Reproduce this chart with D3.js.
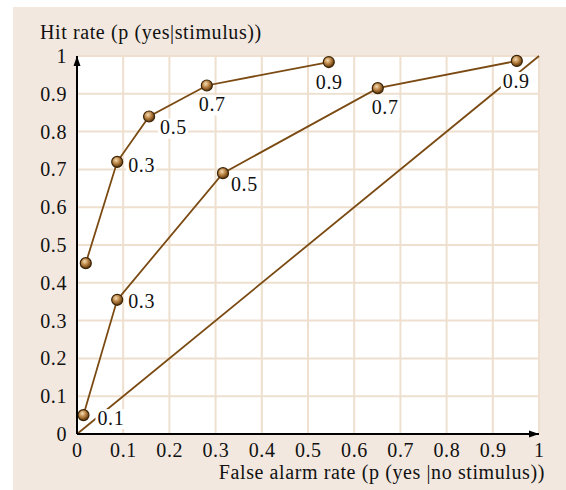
<!DOCTYPE html>
<html><head><meta charset="utf-8">
<script src="https://cdn.jsdelivr.net/npm/d3@7"></script>
<style>
html,body{margin:0;padding:0;background:#fff;}
svg text{font-family:"Liberation Serif","Times New Roman",serif;}
</style></head>
<body>
<svg id="chart" width="566" height="490"></svg>
<script>
// ---- data ----
const ticks = [0, 0.1, 0.2, 0.3, 0.4, 0.5, 0.6, 0.7, 0.8, 0.9, 1];
const tickLabels = ["0","0.1","0.2","0.3","0.4","0.5","0.6","0.7","0.8","0.9","1"];
const curveA_fa  = [0.019, 0.087, 0.156, 0.281, 0.545];
const curveA_hit = [0.452, 0.720, 0.840, 0.922, 0.984];
const curveA_lab = ["", "0.3", "0.5", "0.7", "0.9"];
const curveB_fa  = [0.014, 0.087, 0.316, 0.651, 0.952];
const curveB_hit = [0.050, 0.355, 0.690, 0.915, 0.987];
const curveB_lab = ["0.1", "0.3", "0.5", "0.7", "0.9"];
const diagonal = [0, 1];
const yTitle = "Hit rate (p (yes|stimulus))";
const xTitle = "False alarm rate (p (yes |no stimulus))";

// ---- layout (label offsets in px, relative to point) ----
const offA = [[0,0],[11,10],[11,18],[-8,26],[-13,27]];
const offB = [[14,10],[11,8],[8,18],[-6,26],[-14,27]];

const svg = d3.select("#chart");
const x = d3.scaleLinear().domain([0,1]).range([77,539]);
const y = d3.scaleLinear().domain([0,1]).range([434,56]);
const lineCol = "#7a4a12";
const gridCol = "#eedfcf";

svg.append("rect").attr("x",13).attr("y",7).attr("width",553).attr("height",483).attr("fill","#f2e8df");
svg.append("rect").attr("x",x(0)).attr("y",y(1)).attr("width",x(1)-x(0)).attr("height",y(0)-y(1)).attr("fill","#fff");

const defs = svg.append("defs");
const grad = defs.append("radialGradient").attr("id","ball").attr("cx","40%").attr("cy","35%").attr("r","65%");
grad.append("stop").attr("offset","0%").attr("stop-color","#f3dcb6");
grad.append("stop").attr("offset","45%").attr("stop-color","#c08a4a");
grad.append("stop").attr("offset","100%").attr("stop-color","#5a3208");
const arrow = defs.append("marker").attr("id","arr").attr("viewBox","0 0 10 10").attr("refX",10).attr("refY",5)
  .attr("markerWidth",10).attr("markerHeight",10).attr("markerUnits","userSpaceOnUse").attr("orient","auto");
arrow.append("path").attr("d","M0,1.5 L10,5 L0,8.5 Z").attr("fill","#000");

// grid
const g = svg.append("g");
g.selectAll(".gx").data(ticks.slice(1)).join("line")
  .attr("x1",d=>x(d)).attr("x2",d=>x(d)).attr("y1",y(0)).attr("y2",y(1))
  .attr("stroke",gridCol).attr("stroke-width",2);
g.selectAll(".gy").data(ticks.slice(1)).join("line")
  .attr("y1",d=>y(d)).attr("y2",d=>y(d)).attr("x1",x(0)).attr("x2",x(1))
  .attr("stroke",gridCol).attr("stroke-width",2);

// tick labels
const fs = 20, ls = 0.6;
const txtCol = "#111";
svg.append("g").selectAll("text").data(ticks).join("text")
  .attr("x",67).attr("y",d=>y(d)+7).attr("text-anchor","end")
  .attr("font-size",fs).attr("letter-spacing",ls).attr("fill",txtCol)
  .text((d,i)=>tickLabels[i]);
svg.append("g").selectAll("text").data(ticks).join("text")
  .attr("x",d=>x(d)+ls/2).attr("y",457).attr("text-anchor","middle")
  .attr("font-size",fs).attr("letter-spacing",ls).attr("fill",txtCol)
  .text((d,i)=>tickLabels[i]);

svg.append("text").attr("x",40).attr("y",39).attr("font-size",fs).attr("letter-spacing",ls).attr("fill",txtCol).text(yTitle);
svg.append("text").attr("x",545).attr("y",479).attr("text-anchor","end").attr("font-size",fs).attr("letter-spacing",ls).attr("fill",txtCol).text(xTitle);

// curves
const line = d3.line().x(d=>x(d[0])).y(d=>y(d[1]));
const ptsA = curveA_fa.map((v,i)=>[v,curveA_hit[i],curveA_lab[i],offA[i]]);
const ptsB = curveB_fa.map((v,i)=>[v,curveB_hit[i],curveB_lab[i],offB[i]]);
const diag = diagonal.map(d=>[d,d]);
[diag, ptsA, ptsB].forEach(p=>{
  svg.append("path").attr("d",line(p)).attr("fill","none").attr("stroke",lineCol).attr("stroke-width",1.8);
});

// labels with white boxes
const labs = svg.append("g");
[...ptsA, ...ptsB].filter(d=>d[2]).forEach(d=>{
  const lg = labs.append("g");
  const t = lg.append("text").attr("x",x(d[0])+d[3][0]).attr("y",y(d[1])+d[3][1])
    .attr("font-size",fs).attr("letter-spacing",ls).attr("fill",txtCol).text(d[2]);
  const b = t.node().getBBox();
  lg.insert("rect","text").attr("x",b.x-2).attr("y",b.y+2).attr("width",b.width+3).attr("height",b.height-2).attr("fill","#fff");
});

// points
svg.append("g").selectAll("circle").data([...ptsA, ...ptsB]).join("circle")
  .attr("cx",d=>x(d[0])).attr("cy",d=>y(d[1])).attr("r",5.5)
  .attr("fill","url(#ball)").attr("stroke","#3b2406").attr("stroke-width",1.2);

// axes
svg.append("line").attr("x1",x(0)).attr("y1",y(0)).attr("x2",x(1)).attr("y2",y(0))
  .attr("stroke","#000").attr("stroke-width",2).attr("marker-end","url(#arr)");
svg.append("line").attr("x1",x(0)).attr("y1",y(0)).attr("x2",x(0)).attr("y2",y(1))
  .attr("stroke","#000").attr("stroke-width",2).attr("marker-end","url(#arr)");
</script>
</body></html>
